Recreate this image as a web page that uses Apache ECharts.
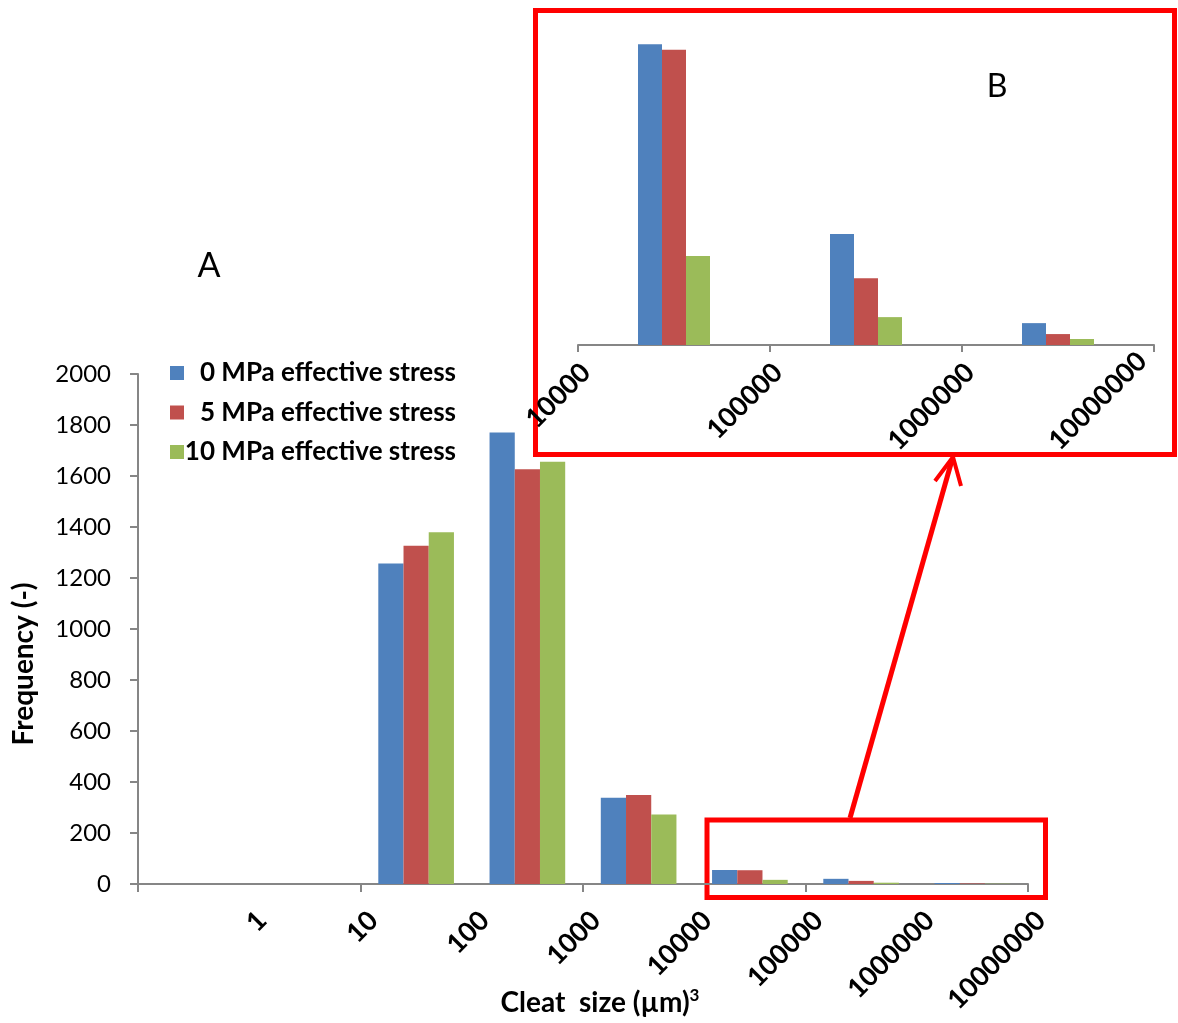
<!DOCTYPE html>
<html><head><meta charset="utf-8">
<script src="https://cdn.jsdelivr.net/npm/echarts@6/dist/echarts.min.js"></script>
<style>html,body{margin:0;padding:0;background:#fff}#c{width:1178px;height:1023px}</style>
</head><body><div id="c"></div>
<script>
// Bins of cleat size (between successive tick labels)
const bins = ['<1', '1-10', '10-100', '100-1000', '1000-10000', '10000-100000', '100000-1000000', '1000000-10000000'];
// Tick labels drawn at bin boundaries
const tickLabels = ['', '1', '10', '100', '1000', '10000', '100000', '1000000', '10000000'];
const seriesNames = ['0 MPa effective stress', '5 MPa effective stress', '10 MPa effective stress'];
const stress0 = [0, 0, 1257, 1771, 338, 55, 20.3, 4.0];
const stress5 = [0, 0, 1326, 1626, 349, 54, 12.2, 2.0];
const stress10 = [0, 0, 1379, 1656, 273, 16.3, 5.1, 1.1];
const insetStart = 5; // inset B zooms on the last three bins

const colors = ['#4F81BD', '#C0504D', '#9BBB59'];
const FONT = 'Lato';
const axisGray = '#868686';

const chart = echarts.init(document.getElementById('c'));
const allData = [stress0, stress5, stress10];

const mainSeries = allData.map((d, i) => ({
  name: seriesNames[i], type: 'bar', xAxisIndex: 0, yAxisIndex: 0, data: d,
  barGap: '0%', barCategoryGap: '32%', itemStyle: {color: colors[i]}, silent: true
}));
const insetSeries = allData.map((d, i) => ({
  name: seriesNames[i], type: 'bar', xAxisIndex: 2, yAxisIndex: 2, data: d.slice(insetStart),
  barGap: '0%', barCategoryGap: '62.5%', itemStyle: {color: colors[i]}, silent: true
}));

const labelStyle = {fontFamily: FONT, fontWeight: 'bold', fontSize: 27, color: '#000'};
const insetLabels = tickLabels.slice(insetStart);

chart.setOption({
  animation: false,
  color: colors,
  grid: [
    {left: 138, width: 890, top: 374, height: 510},
    {left: 151, width: 890, top: 374, height: 510},
    {left: 578, width: 576, top: 17, height: 328},
    {left: 586, width: 576, top: 17, height: 328}
  ],
  xAxis: [
    {gridIndex: 0, type: 'category', data: bins, boundaryGap: true,
     axisLine: {lineStyle: {color: axisGray, width: 2}},
     axisTick: {show: true, length: 8, lineStyle: {color: axisGray, width: 2}},
     axisLabel: {show: false}},
    {gridIndex: 1, type: 'category', data: tickLabels, boundaryGap: false,
     axisLine: {show: false}, axisTick: {show: false},
     axisLabel: Object.assign({interval: 0, rotate: 45, margin: 32}, labelStyle)},
    {gridIndex: 2, type: 'category', data: bins.slice(insetStart), boundaryGap: true,
     axisLine: {lineStyle: {color: axisGray, width: 2}},
     axisTick: {show: true, length: 7, lineStyle: {color: axisGray, width: 2}},
     axisLabel: {show: false}},
    {gridIndex: 3, type: 'category', data: insetLabels, boundaryGap: false,
     axisLine: {show: false}, axisTick: {show: false},
     axisLabel: Object.assign({interval: 0, rotate: 45, margin: 23,
       formatter: (v, i) => i === insetLabels.length - 1 ? '{e|' + v + '}' : v,
       rich: {e: {fontFamily: FONT, fontWeight: 'bold', fontSize: 27, color: '#000', padding: [0, 6, 44, 0]}}
     }, labelStyle)}
  ],
  yAxis: [
    {gridIndex: 0, type: 'value', min: 0, max: 2000, interval: 200,
     name: 'Frequency (-)', nameLocation: 'middle', nameGap: 100, nameRotate: 90,
     nameTextStyle: {fontFamily: FONT, fontWeight: 'bold', fontSize: 28, color: '#000', padding: [0, 70, 0, 0]},
     axisLine: {show: true, lineStyle: {color: axisGray, width: 2}},
     axisTick: {show: true, length: 8, lineStyle: {color: axisGray, width: 2}},
     splitLine: {show: false},
     axisLabel: {fontFamily: FONT, fontSize: 24, color: '#000', margin: 27, formatter: v => String(v)}},
    {gridIndex: 1, type: 'value', show: false, splitLine: {show: false}},
    {gridIndex: 2, type: 'value', min: 0, max: 60, show: false, splitLine: {show: false}},
    {gridIndex: 3, type: 'value', show: false, splitLine: {show: false}}
  ],
  legend: {
    orient: 'vertical', left: 165, top: 355, itemWidth: 14, itemHeight: 14, itemGap: 13.5,
    itemTextGap: 5, icon: 'rect', data: seriesNames, selectedMode: false,
    formatter: n => '{a|' + n + '}',
    textStyle: {rich: {a: {fontFamily: FONT, fontWeight: 'bold', fontSize: 26, color: '#000',
      width: 267, align: 'right', lineHeight: 30}}}
  },
  graphic: [
    {type: 'text', x: 209, y: 266, style: {text: 'A', fontFamily: FONT, fontSize: 34, fill: '#000', align: 'center', verticalAlign: 'middle'}},
    {type: 'text', x: 997, y: 87, style: {text: 'B', fontFamily: FONT, fontSize: 32, fill: '#000', align: 'center', verticalAlign: 'middle'}},
    {type: 'text', x: 600, y: 1003, style: {text: 'Cleat  size (\u00b5m){sup|3}', fontFamily: FONT, fontWeight: 'bold', fontSize: 28, fill: '#000', align: 'center', verticalAlign: 'middle',
      rich: {sup: {fontFamily: FONT, fontWeight: 'bold', fontSize: 17, fill: '#000', verticalAlign: 'top', lineHeight: 32}}}},
    {type: 'rect', shape: {x: 535.5, y: 10.5, width: 639, height: 444}, style: {fill: 'none', stroke: '#FF0000', lineWidth: 5}},
    {type: 'rect', shape: {x: 707, y: 820, width: 338.5, height: 77.5}, style: {fill: 'none', stroke: '#FF0000', lineWidth: 5}},
    {type: 'line', shape: {x1: 850, y1: 818, x2: 952, y2: 460}, style: {stroke: '#FF0000', lineWidth: 5}},
    {type: 'polyline', shape: {points: [[935, 481], [953, 457], [961, 486]]}, style: {fill: 'none', stroke: '#FF0000', lineWidth: 4}}
  ],
  series: mainSeries.concat(insetSeries)
});
</script></body></html>
